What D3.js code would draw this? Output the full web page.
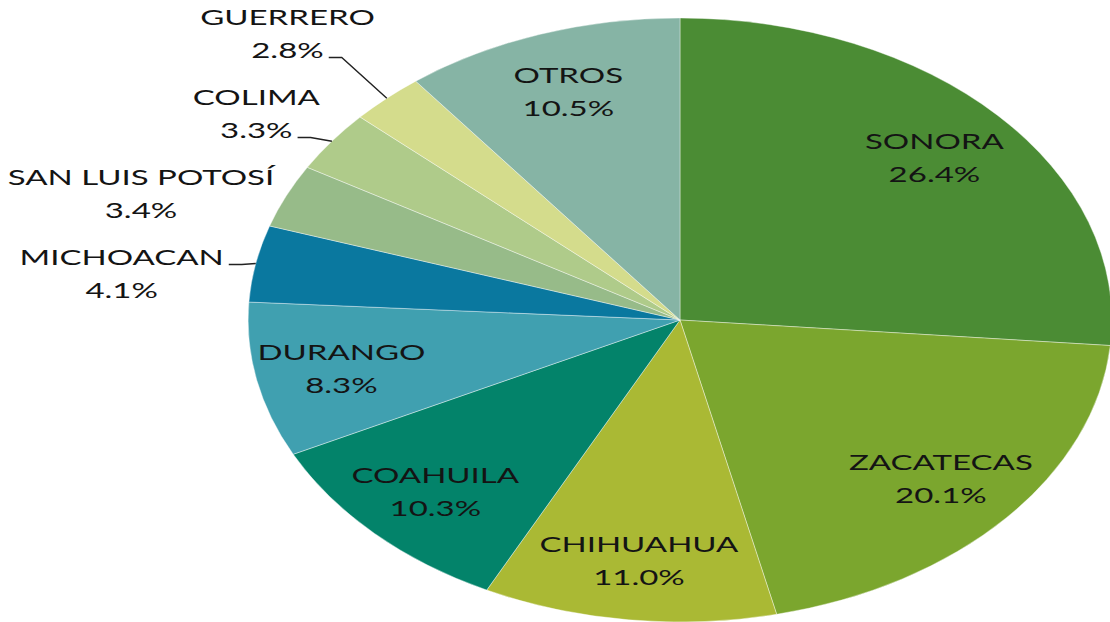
<!DOCTYPE html>
<html>
<head>
<meta charset="utf-8">
<script src="https://cdn.jsdelivr.net/npm/d3@7"></script>
<style>
  body { margin: 0; background: #fff; }
  text { font-family: Lato, "Open Sans", sans-serif; font-size: 22px; fill: #141414; }
</style>
</head>
<body>
<svg id="chart"></svg>
<script>
var WIDTH = 1110;
var HEIGHT = 622;

// data (percent of total)
var categories = ['SONORA', 'ZACATECAS', 'CHIHUAHUA', 'COAHUILA', 'DURANGO',
                  'MICHOACAN', 'SAN LUIS POTOSÍ', 'COLIMA', 'GUERRERO', 'OTROS'];
var shares = [26.4, 20.1, 11.0, 10.3, 8.3, 4.1, 3.4, 3.3, 2.8, 10.5];
var colors = ['#4b8c34', '#7ba62e', '#aab934', '#03836a', '#40a0b0',
              '#0a789f', '#97bb89', '#afcb8a', '#d4dc8c', '#86b4a5'];
var noLeader = ['SAN LUIS POTOSÍ'];

var cx = 680, cy = 320;
var ry = 302;
var sx = 1.43;          // the chart is stretched horizontally
var rx = ry * sx;
var textSx = 1.5;       // text stretched too

var svg = d3.select('#chart').attr('width', WIDTH).attr('height', HEIGHT);

var data = categories.map(function(c, i) { return { name: c, value: shares[i], color: colors[i] }; });

var pie = d3.pie().value(function(d) { return d.value; }).sort(null);
var arcs = pie(data);

var arc = d3.arc().innerRadius(0).outerRadius(ry);

var pieG = svg.append('g')
    .attr('transform', 'translate(' + cx + ',' + cy + ') scale(' + sx + ',1)');

pieG.selectAll('path')
    .data(arcs)
    .enter()
    .append('path')
    .attr('d', arc)
    .attr('fill', function(d) { return d.data.color; })
    .attr('stroke', 'rgba(255,255,255,0.55)')
    .attr('stroke-width', 0.6);

function pointAt(angle, k) {
    return [cx + rx * k * Math.sin(angle), cy - ry * k * Math.cos(angle)];
}

var labelG = svg.append('g');

function addText(str, x, baseline) {
    labelG.append('text')
        .attr('text-anchor', 'middle')
        .attr('transform', 'translate(' + x + ',' + baseline + ') scale(' + textSx + ',1)')
        .text(str);
}

function measure(str) {
    var t = labelG.append('text').text(str);
    var w = t.node().getComputedTextLength() * textSx;
    t.remove();
    return w;
}

function pct(v) { return v.toFixed(1) + '%'; }

// inside labels
arcs.forEach(function(d) {
    if (d.data.value < 5) return;
    var mid = (d.startAngle + d.endAngle) / 2;
    var p = pointAt(mid, 0.8);
    addText(d.data.name, p[0], p[1] - 8);
    addText(pct(d.data.value), p[0], p[1] + 25);
});

// outside labels, stacked from the bottom up
var outside = arcs.filter(function(d) { return d.data.value < 5; }).map(function(d) {
    var mid = (d.startAngle + d.endAngle) / 2;
    return { d: d, anchor: pointAt(mid, 1) };
});
outside.sort(function(a, b) { return b.anchor[1] - a.anchor[1]; });

var prev = null;
outside.forEach(function(o) {
    var yc = o.anchor[1] + 9;
    if (prev !== null) yc = Math.min(yc, prev - 80);
    prev = yc;

    var wName = measure(o.d.data.name);
    var wPct = measure(pct(o.d.data.value));
    var wMax = Math.max(wName, wPct);
    var nameBase = yc - 8;
    var pctBase = yc + 25;

    var hasLeader = noLeader.indexOf(o.d.data.name) < 0;
    var useName = Math.abs(nameBase - o.anchor[1]) < Math.abs(pctBase - o.anchor[1]);
    var wLine = useName ? wName : wPct;
    // leave room for the leader when it leaves from the widest line
    var gap = (hasLeader && wLine >= wMax) ? 32 : 12;
    var xc = o.anchor[0] - gap - wMax / 2;

    addText(o.d.data.name, xc, nameBase);
    addText(pct(o.d.data.value), xc, pctBase);

    if (!hasLeader) return;
    var ly = useName ? nameBase : pctBase;
    var lx = xc + wLine / 2 + 5;
    labelG.append('path')
        .attr('d', d3.line()([[lx, ly], [lx + 13, ly], o.anchor]))
        .attr('fill', 'none')
        .attr('stroke', '#222')
        .attr('stroke-width', 1.4);
});
</script>
</body>
</html>
